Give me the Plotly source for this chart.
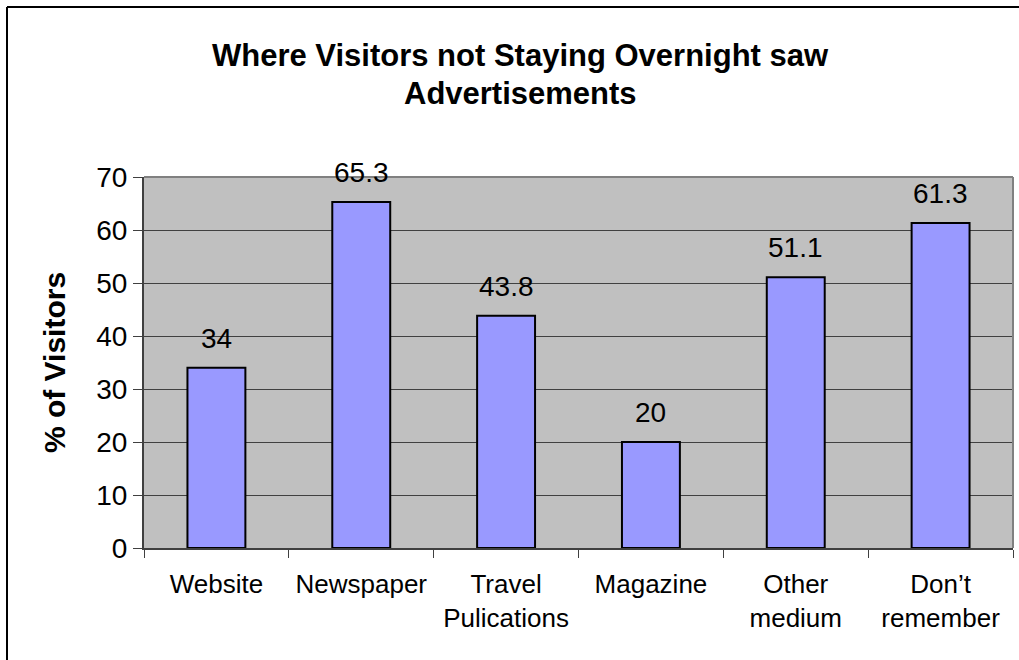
import plotly.graph_objects as go

categories = ["Website", "Newspaper", "Travel<br>Pulications", "Magazine", "Other<br>medium", "Don’t<br>remember"]
values = [34, 65.3, 43.8, 20, 51.1, 61.3]
y_ticks = [0, 10, 20, 30, 40, 50, 60, 70]

FONT = "Liberation Sans, Arial, sans-serif"
W, H = 1019, 660
ML, MR, MT, MB = 144, 6, 177, 112

fig = go.Figure()
fig.add_trace(go.Bar(
    x=categories, y=values,
    marker=dict(color="#9999FF", line=dict(color="#000000", width=2)),
    width=0.4,
    hoverinfo="x+y",
))

# value labels above each bar
for c, v in zip(categories, values):
    fig.add_annotation(x=c, y=v, text=f"{v:g}", showarrow=False,
                       yanchor="bottom", yshift=12,
                       font=dict(family=FONT, size=28, color="#000000"))

pw = W - ML - MR
ph = H - MT - MB

def px_x(p):
    return (p - ML) / pw

def px_y(p):
    return (H - MB - p) / ph

# chart title, two lines
fig.add_annotation(xref="paper", yref="paper", x=px_x(520), y=px_y(55),
                   text="<b>Where Visitors not Staying Overnight saw</b>",
                   showarrow=False, xanchor="center", yanchor="middle",
                   font=dict(family=FONT, size=31, color="#000000"))
fig.add_annotation(xref="paper", yref="paper", x=px_x(520), y=px_y(93),
                   text="<b>Advertisements</b>",
                   showarrow=False, xanchor="center", yanchor="middle",
                   font=dict(family=FONT, size=31, color="#000000"))

# outer chart frame (left and top edges visible)
fig.add_shape(type="line", xref="paper", yref="paper",
              x0=px_x(7), x1=px_x(7), y0=px_y(7), y1=px_y(700),
              line=dict(color="#000000", width=2))
fig.add_shape(type="line", xref="paper", yref="paper",
              x0=px_x(7), x1=px_x(1100), y0=px_y(7), y1=px_y(7),
              line=dict(color="#000000", width=2))

# plot-area border on top and right
fig.add_shape(type="line", xref="paper", yref="paper", x0=0, x1=1, y0=1, y1=1,
              line=dict(color="#808080", width=2))
fig.add_shape(type="line", xref="paper", yref="paper", x0=1, x1=1, y0=0, y1=1,
              line=dict(color="#808080", width=2))

fig.update_layout(
    width=W, height=H,
    margin=dict(l=ML, r=MR, t=MT, b=MB),
    paper_bgcolor="#FFFFFF",
    plot_bgcolor="#C0C0C0",
    showlegend=False,
    font=dict(family=FONT, color="#000000"),
    xaxis=dict(
        type="category",
        showgrid=False,
        showline=True, linecolor="#404040", linewidth=2,
        ticks="outside", tickson="boundaries", ticklen=8, tickcolor="#404040", tickwidth=1,
        tickfont=dict(family=FONT, size=26, color="#000000"),
        ticklabelstandoff=12,
    ),
    yaxis=dict(
        range=[0, 70],
        tickvals=y_ticks,
        showgrid=True, gridcolor="#404040", gridwidth=1,
        showline=True, linecolor="#404040", linewidth=2,
        ticks="outside", ticklen=9, tickcolor="#404040", tickwidth=1,
        tickfont=dict(family=FONT, size=28, color="#000000"),
        title=dict(text="<b>% of Visitors</b>", standoff=22,
                   font=dict(family=FONT, size=30, color="#000000")),
        zeroline=False,
    ),
)

fig.write_html("out.html")
